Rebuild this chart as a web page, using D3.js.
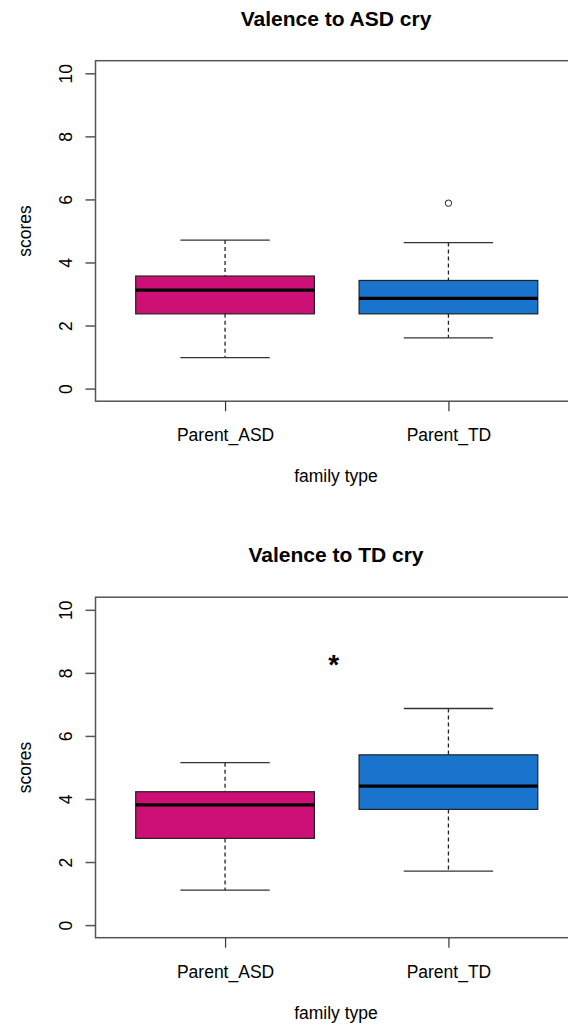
<!DOCTYPE html>
<html>
<head>
<meta charset="utf-8">
<script src="https://cdn.jsdelivr.net/npm/d3@7"></script>
<style>
  html, body { margin: 0; padding: 0; background: #fff; }
  svg { display: block; }
  text { font-family: "Liberation Sans", Arial, sans-serif; fill: #000; }
</style>
</head>
<body>
<svg id="chart" width="568" height="1025"></svg>
<script>
// Groups and colours
const groups = ["Parent_ASD", "Parent_TD"];
const groupColors = ["#CD1076", "#1874CD"];
const yTicks = [0, 2, 4, 6, 8, 10];

// Five-number summaries per group: [lower whisker, Q1, median, Q3, upper whisker]
const asdCryStats = [
  [0.98, 2.37, 3.12, 3.57, 4.71],
  [1.61, 2.37, 2.86, 3.43, 4.63]
];
const asdCryOutliers = [[], [5.88]];

const tdCryStats = [
  [1.11, 2.75, 3.81, 4.23, 5.15],
  [1.71, 3.67, 4.41, 5.40, 6.87]
];
const tdCryOutliers = [[], []];

// Significance marker for the second panel (x in group units, y in score units)
const tdCryMarker = { x: 1.5, y: 8.4, label: "*" };

const svg = d3.select("#chart");
const FONT = 17.5;

function drawPanel(opts) {
  const { top, title, stats, outliers, marker } = opts;
  const plotTop = top, plotBottom = top + 340.5;
  const plotLeft = 95.5, plotRight = 578;

  // R-style: x domain 0.5..2.5 extended by 4%
  const x = d3.scaleLinear().domain([0.42, 2.58]).range([plotLeft, plotRight]);
  const y = d3.scaleLinear().domain([-0.4, 10.4]).range([plotBottom, plotTop]);

  const g = svg.append("g");

  // Title
  g.append("text")
    .attr("x", 336).attr("y", plotTop - 35)
    .attr("text-anchor", "middle")
    .attr("font-size", 21).attr("font-weight", "bold")
    .text(title);

  // Boxes
  const halfW = 0.4, capHalf = 0.2;
  stats.forEach((s, i) => {
    const cx = x(i + 1);
    const [lo, q1, med, q3, hi] = s;
    const bg = g.append("g");
    // dashed whiskers
    bg.append("line").attr("x1", cx).attr("x2", cx).attr("y1", y(hi)).attr("y2", y(q3))
      .attr("stroke", "#222").attr("stroke-width", 1.3).attr("stroke-dasharray", "4,3");
    bg.append("line").attr("x1", cx).attr("x2", cx).attr("y1", y(q1)).attr("y2", y(lo))
      .attr("stroke", "#222").attr("stroke-width", 1.3).attr("stroke-dasharray", "4,3");
    // caps
    [lo, hi].forEach(v => {
      bg.append("line")
        .attr("x1", x(i + 1 - capHalf)).attr("x2", x(i + 1 + capHalf))
        .attr("y1", y(v)).attr("y2", y(v))
        .attr("stroke", "#333").attr("stroke-width", 1.3);
    });
    // box
    bg.append("rect")
      .attr("x", x(i + 1 - halfW)).attr("width", x(i + 1 + halfW) - x(i + 1 - halfW))
      .attr("y", y(q3)).attr("height", y(q1) - y(q3))
      .attr("fill", groupColors[i]).attr("stroke", "#222").attr("stroke-width", 1.2);
    // median
    bg.append("line")
      .attr("x1", x(i + 1 - halfW)).attr("x2", x(i + 1 + halfW))
      .attr("y1", y(med)).attr("y2", y(med))
      .attr("stroke", "#000").attr("stroke-width", 3.2);
    // outliers
    outliers[i].forEach(v => {
      bg.append("circle").attr("cx", cx).attr("cy", y(v)).attr("r", 3.2)
        .attr("fill", "none").attr("stroke", "#222").attr("stroke-width", 1);
    });
  });

  if (marker) {
    g.append("text")
      .attr("x", x(marker.x) - 3).attr("y", y(marker.y) + 14)
      .attr("text-anchor", "middle")
      .attr("font-size", 28).attr("font-weight", "bold")
      .text(marker.label);
  }

  // Frame
  g.append("rect")
    .attr("x", plotLeft).attr("y", plotTop)
    .attr("width", plotRight - plotLeft).attr("height", plotBottom - plotTop)
    .attr("fill", "none").attr("stroke", "#555").attr("stroke-width", 1.5);

  // Y axis
  const yAxis = d3.axisLeft(y).tickValues(yTicks).tickSize(10).tickFormat(d3.format("d"));
  const ya = g.append("g").attr("transform", `translate(${plotLeft},0)`).call(yAxis);
  ya.select(".domain").remove();
  ya.selectAll(".tick line").attr("stroke", "#555").attr("stroke-width", 1.5);
  ya.selectAll(".tick text")
    .attr("font-size", FONT).attr("font-family", "Liberation Sans, Arial, sans-serif")
    .attr("fill", "#222")
    .attr("text-anchor", "middle").attr("dy", null).attr("x", null)
    .attr("transform", "translate(-30,0) rotate(-90)")
    .attr("dominant-baseline", "central");

  // X axis
  const xAxis = d3.axisBottom(x).tickValues([1, 2]).tickSize(10).tickPadding(0)
    .tickFormat(d => groups[d - 1]);
  const xa = g.append("g").attr("transform", `translate(0,${plotBottom})`).call(xAxis);
  xa.select(".domain").remove();
  xa.selectAll(".tick line").attr("stroke", "#333").attr("stroke-width", 1.2);
  xa.selectAll(".tick text")
    .attr("font-size", FONT).attr("font-family", "Liberation Sans, Arial, sans-serif")
    .attr("fill", "#222").attr("dy", null).attr("y", 40);

  // Axis titles
  g.append("text")
    .attr("x", 336).attr("y", plotBottom + 81)
    .attr("text-anchor", "middle").attr("font-size", FONT).attr("fill", "#222")
    .text("family type");
  g.append("text")
    .attr("transform", `translate(25,${(plotTop + plotBottom) / 2}) rotate(-90)`)
    .attr("text-anchor", "middle").attr("dominant-baseline", "central")
    .attr("font-size", FONT).attr("fill", "#222")
    .text("scores");
}

drawPanel({ top: 60.7, title: "Valence to ASD cry", stats: asdCryStats, outliers: asdCryOutliers });
drawPanel({ top: 597.2, title: "Valence to TD cry", stats: tdCryStats, outliers: tdCryOutliers, marker: tdCryMarker });
</script>
</body>
</html>
